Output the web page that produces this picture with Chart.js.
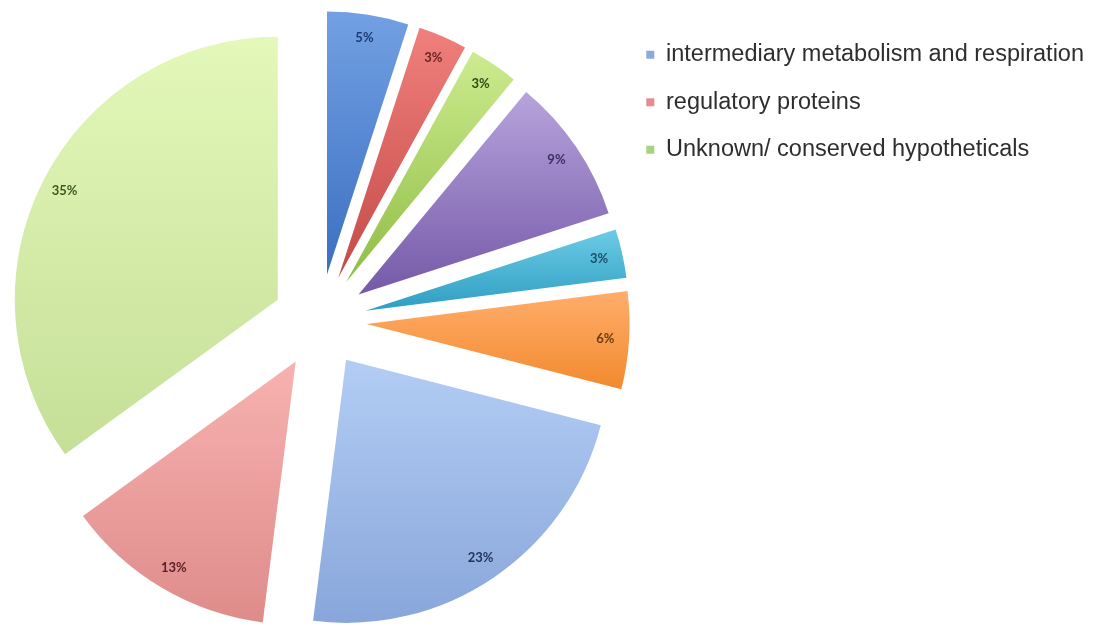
<!DOCTYPE html>
<html>
<head>
<meta charset="utf-8">
<script src="https://cdn.jsdelivr.net/npm/chart.js@4.4.1/dist/chart.umd.min.js"></script>
<style>
  html, body { margin: 0; padding: 0; background: #fff; overflow: hidden; }
  #wrap { width: 1098px; height: 624px; }
</style>
</head>
<body>
<div id="wrap"><canvas id="pieChart" width="1098" height="624"></canvas></div>
<script>
// slices, clockwise from 12 o'clock
const categories = [
    "Category 1", "Category 2", "Category 3", "Category 4", "Category 5", "Category 6",
    "intermediary metabolism and respiration",
    "regulatory proteins",
    "Unknown/ conserved hypotheticals"
];
const shares = [5, 3, 3, 9, 3, 6, 23, 13, 35];
const legendIndex = [6, 7, 8];

const topColors = ["#72a0e3", "#f0807c", "#cdeb8f", "#b7a3dc", "#6ccbe6", "#ffad6b", "#b3cdf4", "#f7b2b0", "#e3f8b9"];
const bottomColors = ["#3b6fc0", "#c44a47", "#8fbd45", "#7559a8", "#2e9ec2", "#f28a2e", "#88a6da", "#de8c8a", "#c5df98"];
const textColors = ["#1f3a70", "#6b2626", "#2f4a16", "#3d3060", "#1d4f66", "#6b3a12", "#1f3558", "#5a1f25", "#3c5a20"];
const legendColors = ["#8ca9e0", "#e68c90", "#a9d27f"];

const explode = 47;
const pieRadius = 263;
const labelRadius = 0.91;

function sliceGeometry(chart, i) {
    const area = chart.chartArea;
    const total = shares.reduce((a, b) => a + b, 0);
    let before = 0;
    for (let k = 0; k < i; k++) before += shares[k];
    const start = -Math.PI / 2 + 2 * Math.PI * before / total;
    const end = start + 2 * Math.PI * shares[i] / total;
    const mid = (start + end) / 2;
    const cx = (area.left + area.right) / 2 + Math.cos(mid) * explode;
    const cy = (area.top + area.bottom) / 2 + Math.sin(mid) * explode;
    return { start, end, cx, cy };
}

function sliceFill(context) {
    const chart = context.chart;
    const i = context.dataIndex;
    if (!chart.chartArea || i === undefined) return topColors[i || 0];
    const g = sliceGeometry(chart, i);
    const ys = [g.cy, g.cy + Math.sin(g.start) * pieRadius, g.cy + Math.sin(g.end) * pieRadius];
    [-Math.PI / 2, Math.PI / 2].forEach(a => {
        if (a > g.start && a < g.end) ys.push(g.cy + Math.sin(a) * pieRadius);
    });
    const grad = chart.ctx.createLinearGradient(0, Math.min(...ys), 0, Math.max(...ys));
    grad.addColorStop(0, topColors[i]);
    grad.addColorStop(1, bottomColors[i]);
    return grad;
}

// pull every slice out along its middle angle
const explodePlugin = {
    id: "explode",
    afterDatasetsUpdate(chart) {
        chart.getDatasetMeta(0).data.forEach(arc => {
            const mid = (arc.startAngle + arc.endAngle) / 2;
            arc.x += Math.cos(mid) * explode;
            arc.y += Math.sin(mid) * explode;
        });
    }
};

const valueLabels = {
    id: "valueLabels",
    afterDatasetsDraw(chart) {
        const ctx = chart.ctx;
        ctx.save();
        ctx.font = "bold 13px Lato, 'Liberation Sans', sans-serif";
        ctx.textAlign = "center";
        ctx.textBaseline = "middle";
        chart.getDatasetMeta(0).data.forEach((arc, i) => {
            const mid = (arc.startAngle + arc.endAngle) / 2;
            const dist = arc.outerRadius * labelRadius;
            ctx.fillStyle = textColors[i];
            ctx.fillText(shares[i] + "%", arc.x + Math.cos(mid) * dist, arc.y + Math.sin(mid) * dist);
        });
        ctx.restore();
    }
};

const chart = new Chart(document.getElementById("pieChart"), {
    type: "pie",
    data: {
        labels: categories,
        datasets: [{
            data: shares,
            backgroundColor: sliceFill,
            borderWidth: 0,
            clip: false
        }]
    },
    options: {
        responsive: false,
        animation: false,
        events: [],
        radius: pieRadius,
        layout: { padding: { left: 17, right: 4, top: 19, bottom: 1 } },
        plugins: {
            tooltip: { enabled: false },
            legend: {
                position: "right",
                align: "start",
                labels: {
                    font: { family: "'Liberation Sans', Arial, sans-serif", size: 23.5 },
                    color: "#2e2e2e",
                    boxWidth: 8,
                    boxHeight: 8,
                    padding: 24,
                    generateLabels(chart) {
                        const items = Chart.overrides.pie.plugins.legend.labels.generateLabels(chart);
                        return items
                            .filter(it => legendIndex.includes(it.index))
                            .map(it => {
                                const c = legendColors[legendIndex.indexOf(it.index)];
                                return { ...it, fillStyle: c, strokeStyle: c, lineWidth: 0 };
                            });
                    }
                }
            }
        }
    },
    plugins: [explodePlugin, valueLabels]
});
</script>
</body>
</html>
